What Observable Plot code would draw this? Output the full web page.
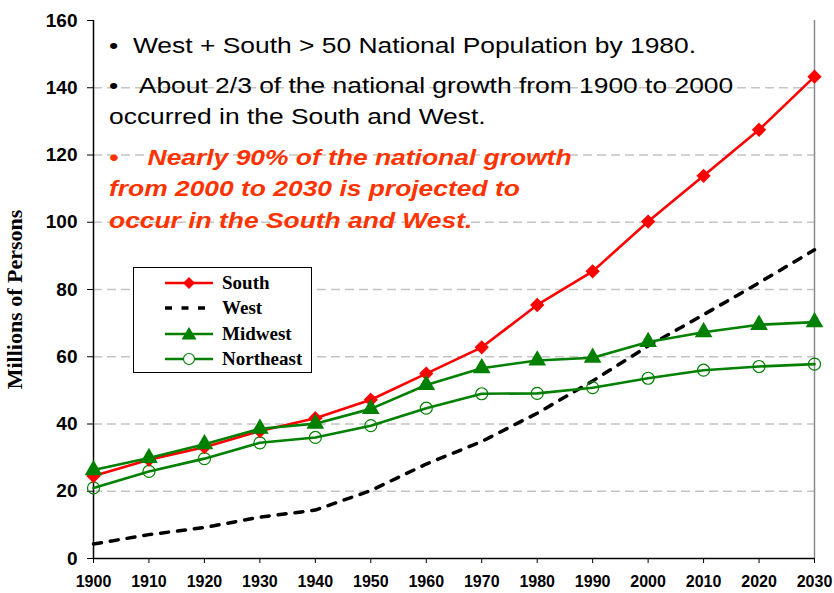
<!DOCTYPE html>
<html><head><meta charset="utf-8">
<script src="https://cdn.jsdelivr.net/npm/d3@7"></script>
<script src="https://cdn.jsdelivr.net/npm/@observablehq/plot@0.6"></script>
<style>
body{margin:0;background:#fff;}
#wrap{position:relative;width:834px;height:593px;overflow:hidden;}
.note{position:absolute;left:109px;font-family:"Liberation Sans",Arial,sans-serif;font-size:22px;line-height:22px;white-space:pre;transform:scaleX(1.2);transform-origin:0 0;color:#000;}
.note.red{color:#FF3300;font-weight:bold;font-style:italic;}
#legend{position:absolute;left:133px;top:267px;width:179px;height:106px;border:1px solid #000;background:#fff;box-sizing:border-box;}
.li{position:absolute;left:0;height:24px;display:flex;align-items:center;font-family:"Liberation Serif","Times New Roman",serif;font-weight:bold;font-size:19px;}
.li svg{margin-left:31px;margin-right:9px;}
</style></head>
<body><div id="wrap"></div>
<script>
const years = [1900,1910,1920,1930,1940,1950,1960,1970,1980,1990,2000,2010,2020,2030];
const south = [24.5,29.4,33.1,37.9,41.7,47.2,55.0,62.8,75.4,85.4,100.2,113.8,127.5,143.3];
const west = [4.3,7.1,9.2,12.3,14.4,20.2,28.1,34.8,43.2,52.8,63.2,72.5,82.0,91.8];
const midwest = [26.3,29.9,34.0,38.6,40.1,44.5,51.6,56.6,58.9,59.7,64.4,67.3,69.5,70.3];
const northeast = [21.0,25.9,29.7,34.4,36.0,39.5,44.7,49.0,49.1,50.8,53.6,56.0,57.1,57.8];
const yTicks = [0,20,40,60,80,100,120,140,160];
const seriesNames = ["South","West","Midwest","Northeast"];
const noteLines = [
  {t:"\u2022  West + South > 50 National Population by 1980.", base:54, red:false},
  {t:"\u2022   About 2/3 of the national growth from 1900 to 2000", base:93.3, red:false},
  {t:"occurred in the South and West.", base:125, red:false},
  {t:"\u2022    Nearly 90% of the national growth", base:165.5, red:true},
  {t:"from 2000 to 2030 is projected to", base:197, red:true},
  {t:"occur in the South and West.", base:228.5, red:true}
];

const toRows = (name, vals) => years.map((year, i) => ({name, year, value: vals[i]}));
const S = toRows("South", south), W = toRows("West", west), M = toRows("Midwest", midwest), N = toRows("Northeast", northeast);
const red = "#FF0000", green = "#008000";

const chart = Plot.plot({
  width: 834, height: 593,
  marginLeft: 93, marginRight: 20, marginTop: 20, marginBottom: 35,
  style: {fontFamily: "'Liberation Sans', Arial, sans-serif", background: "#fff"},
  x: {domain: [1900, 2030]},
  y: {domain: [0, 160]},
  marks: [
    Plot.gridY(yTicks.filter(d => d > 0 && d < 160), {stroke: "#c4c4c4", strokeOpacity: 1, strokeWidth: 1.3, strokeDasharray: "9,5"}),
    Plot.ruleX([2030], {stroke: "#8a8a8a", strokeWidth: 1.5}),
    Plot.axisY(yTicks, {tickSize: 6, tickPadding: 10, fontSize: 19, fontWeight: "bold", fill: "#000", label: null}),
    Plot.axisX(years, {tickSize: 5, tickPadding: 12, fontSize: 16, fontWeight: "bold", fill: "#000", tickFormat: d => String(d), label: null}),
    Plot.ruleY([0], {stroke: "#000", strokeWidth: 1.5}),
    Plot.ruleX([1900], {stroke: "#000", strokeWidth: 1.5}),
    Plot.text(["Millions of Persons"], {frameAnchor: "left", textAnchor: "middle", rotate: -90, dx: -72, dy: 10, fontFamily: "'Liberation Serif','Times New Roman',serif", fontWeight: "bold", fontSize: 22, fill: "#000", lineAnchor: "bottom"}),
    Plot.line(W, {x: "year", y: "value", stroke: "#000", strokeWidth: 3.5, strokeDasharray: "8,9"}),
    Plot.line(N, {x: "year", y: "value", stroke: green, strokeWidth: 2.6}),
    Plot.dot(N, {x: "year", y: "value", r: 6, stroke: green, strokeWidth: 1.2, fill: "none"}),
    Plot.line(S, {x: "year", y: "value", stroke: red, strokeWidth: 2.6}),
    Plot.dot(S, {x: "year", y: "value", symbol: "diamond2", r: 5.5, fill: red, stroke: red}),
    Plot.line(M, {x: "year", y: "value", stroke: green, strokeWidth: 2.6}),
    Plot.dot(M, {x: "year", y: "value", symbol: "triangle", r: 5.6, fill: green, stroke: green})
  ]
});
const wrap = document.getElementById("wrap");
wrap.appendChild(chart);

// annotations
for (const ln of noteLines) {
  const d = document.createElement("div");
  d.className = "note" + (ln.red ? " red" : "");
  d.style.top = (ln.base - 18.6) + "px";
  d.textContent = ln.t;
  wrap.appendChild(d);
}

// legend
const leg = document.createElement("div");
leg.id = "legend";
const swatch = {
  South: `<line x1="0" y1="8" x2="48" y2="8" stroke="${red}" stroke-width="2.6"/><path d="M24,2 L30,8 L24,14 L18,8Z" fill="${red}"/>`,
  West: `<line x1="0" y1="8" x2="48" y2="8" stroke="#000" stroke-width="3.5" stroke-dasharray="7,9.5"/>`,
  Midwest: `<line x1="0" y1="8" x2="48" y2="8" stroke="${green}" stroke-width="2.6"/><path d="M24,1 L31.5,13.5 L16.5,13.5Z" fill="${green}"/>`,
  Northeast: `<line x1="0" y1="8" x2="48" y2="8" stroke="${green}" stroke-width="2.6"/><circle cx="24" cy="8" r="5.5" fill="#fff" stroke="${green}" stroke-width="1.2"/>`
};
seriesNames.forEach((name, i) => {
  const item = document.createElement("div");
  item.className = "li";
  item.style.top = (3 + i * 25.3) + "px";
  item.innerHTML = `<svg width="48" height="16">${swatch[name]}</svg><span>${name}</span>`;
  leg.appendChild(item);
});
wrap.appendChild(leg);
</script>
</body></html>
